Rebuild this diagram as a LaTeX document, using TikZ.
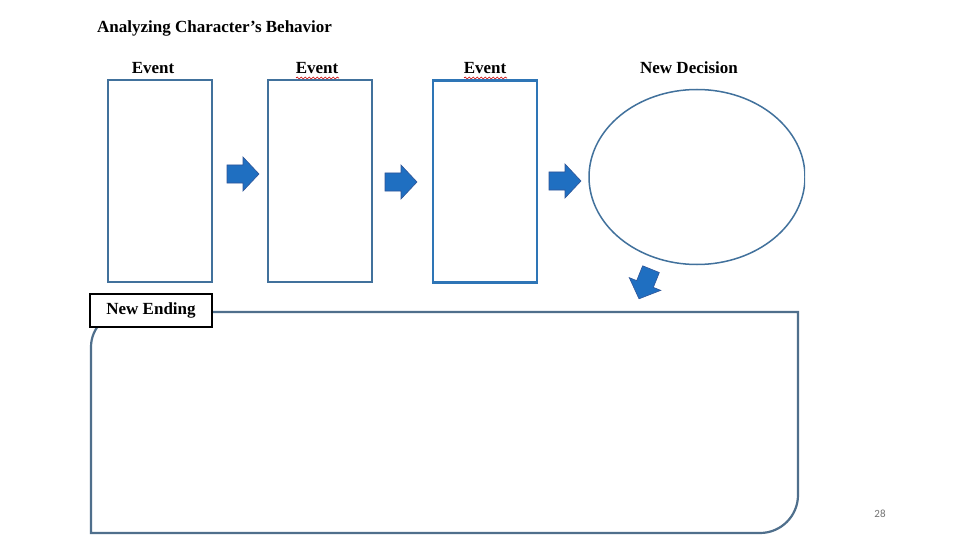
\documentclass[tikz,border=0pt]{standalone}
\usepackage{fontspec}
\setmainfont{Liberation Serif}
\newfontfamily\pagefont{Carlito}
\usetikzlibrary{shapes.geometric,decorations.pathmorphing}
\definecolor{boxblue}{HTML}{41719C}
\definecolor{boxblueB}{HTML}{2E75B6}
\definecolor{arrowfill}{HTML}{1F6FC1}
\definecolor{arrowline}{HTML}{2F5597}
\definecolor{frameblue}{HTML}{4F6F8C}
\tikzset{
  x=1pt, y=-1pt,
  heading/.style={font=\fontsize{17}{20}\selectfont\bfseries, anchor=base, inner sep=0},
  eventbox/.style={draw=boxblue, line width=1.5pt, minimum width=104pt, minimum height=202pt, inner sep=0},
  squiggle/.style={draw=red!80!black, line width=0.6pt, decorate, decoration={snake, amplitude=1pt, segment length=4pt}},
  blockarrow/.pic={
    \coordinate (-c) at (0,0);
    \path[fill=arrowfill, draw=arrowline, line width=0.6pt, line join=miter]
      (-16,-9) -- (0,-9) -- (0,-17) -- (16,0) -- (0,17) -- (0,9) -- (-16,9) -- cycle;
  }
}
\begin{document}
\begin{tikzpicture}
\useasboundingbox (0,0) rectangle (960,540);
\fill[white] (0,0) rectangle (960,540);
% title
\node[font=\fontsize{17}{20}\selectfont\bfseries, anchor=base west, inner sep=0] (title) at (97,33) {Analyzing Character’s Behavior};
% headings
\node[heading] (h1) at (153,74) {Event};
\node[heading] (h2) at (317,74) {Event};
\node[heading] (h3) at (485,74) {Event};
\node[heading] (h4) at (689,74) {New Decision};
\draw[squiggle] (296,78) -- (339,78);
\draw[squiggle] (464,78) -- (507,78);
% event boxes
\node[eventbox] (b1) at (160,181) {};
\node[eventbox] (b2) at (320,181) {};
\node[eventbox, draw=boxblueB, line width=2.2pt] (b3) at (485,181.5) {};
% ellipse, clipped on the right
\begin{scope}
\clip (0,0) rectangle (805,540);
\node[ellipse, draw=boxblue, line width=1.5pt, minimum width=216pt, minimum height=175pt, inner sep=0] (dec) at (697,177) {};
\end{scope}
% arrows
\pic (a1) at (243,174) {blockarrow};
\pic (a2) at (401,182) {blockarrow};
\pic (a3) at (565,181) {blockarrow};
\pic[rotate=248] (a4) at (645,284) {blockarrow};
% big frame
\draw[frameblue, line width=2.2pt] (212,312) -- (798,312)
  [rounded corners=38pt] -- (798,533)
  [sharp corners] -- (91,533)
  [rounded corners=35pt] -- (91,312) -- (200,312);
% label
\node[draw=black, line width=1.5pt, fill=white, minimum width=122pt, minimum height=33pt, inner sep=0,
  font=\fontsize{17}{20}\selectfont\bfseries] (ending) at (151,310.5) {New Ending};
% page number
\node[font=\pagefont\fontsize{11}{13}\selectfont, text=black!55, inner sep=0] (pg) at (880,514) {28};
\end{tikzpicture}
\end{document}
